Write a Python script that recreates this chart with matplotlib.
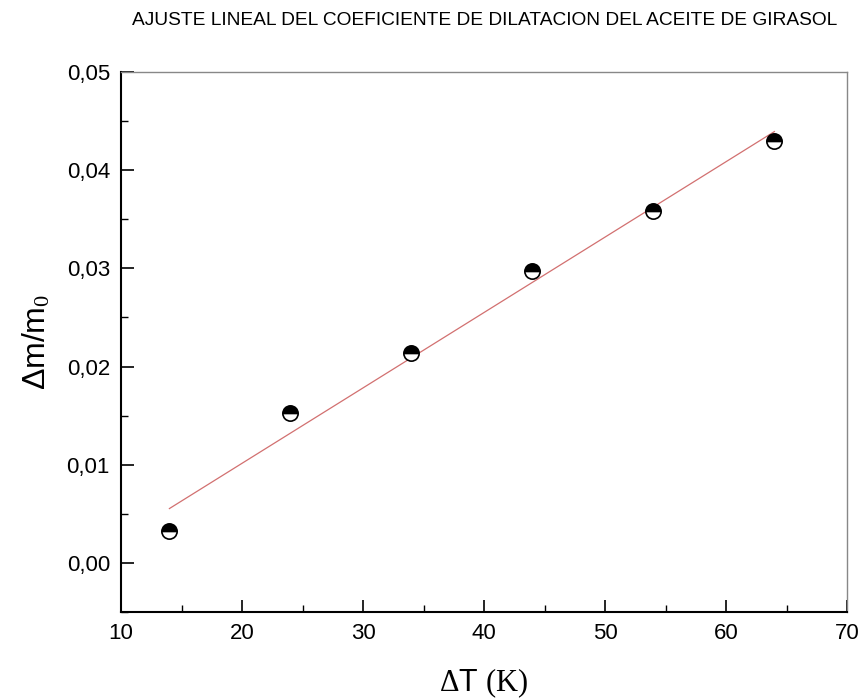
import numpy as np
import matplotlib
matplotlib.use("Agg")
import matplotlib.pyplot as plt
from matplotlib.ticker import FuncFormatter, MultipleLocator

# Data
delta_t = [14, 24, 34, 44, 54, 64]
delta_m = [0.0032, 0.0153, 0.0214, 0.0297, 0.0358, 0.0430]

title = "AJUSTE LINEAL DEL COEFICIENTE DE DILATACION DEL ACEITE DE GIRASOL"

plt.rcParams.update({
    "font.family": ["Liberation Sans", "DejaVu Sans"],
    "mathtext.fontset": "custom",
    "mathtext.rm": "Liberation Serif",
    "mathtext.it": "Liberation Serif:italic",
})

fig = plt.figure(figsize=(8.6, 6.99), dpi=100)
ax = fig.add_axes([0.1407, 0.1245, 0.8442, 0.7725])

# linear fit
slope, intercept = np.polyfit(delta_t, delta_m, 1)
xfit = np.array([delta_t[0], delta_t[-1]])
ax.plot(xfit, slope * xfit + intercept, color="#d27070", lw=0.9, zorder=2)

ax.plot(delta_t, delta_m, linestyle="none", marker="o", markersize=11,
        fillstyle="top", markerfacecolor="black", markerfacecoloralt="white",
        markeredgecolor="black", markeredgewidth=1.2, zorder=3)

ax.set_xlim(10, 70)
ax.set_ylim(-0.005, 0.05)
ax.xaxis.set_major_locator(MultipleLocator(10))
ax.xaxis.set_minor_locator(MultipleLocator(5))
ax.yaxis.set_major_locator(MultipleLocator(0.01))
ax.yaxis.set_minor_locator(MultipleLocator(0.005))
ax.yaxis.set_major_formatter(FuncFormatter(lambda v, p: f"{v:.2f}".replace(".", ",")))

ax.tick_params(which="major", direction="in", length=9, width=1.2, labelsize=16, pad=8)
ax.tick_params(which="minor", direction="in", length=5, width=1.0)
ax.tick_params(top=False, right=False, which="both")

for side in ["left", "bottom"]:
    ax.spines[side].set_linewidth(1.5)
for side in ["top", "right"]:
    ax.spines[side].set_linewidth(1.0)
    ax.spines[side].set_color("#888888")

ax.set_ylabel(r"Δm/m$_0$", fontsize=23, labelpad=10)
ax.set_xlabel(r"$\mathrm{\Delta}$T $\mathrm{(K)}$", fontsize=22, labelpad=16)

fig.text(0.564, 0.971, title, ha="center", va="center", fontsize=13.8)

fig.savefig("out.png", dpi=100)
